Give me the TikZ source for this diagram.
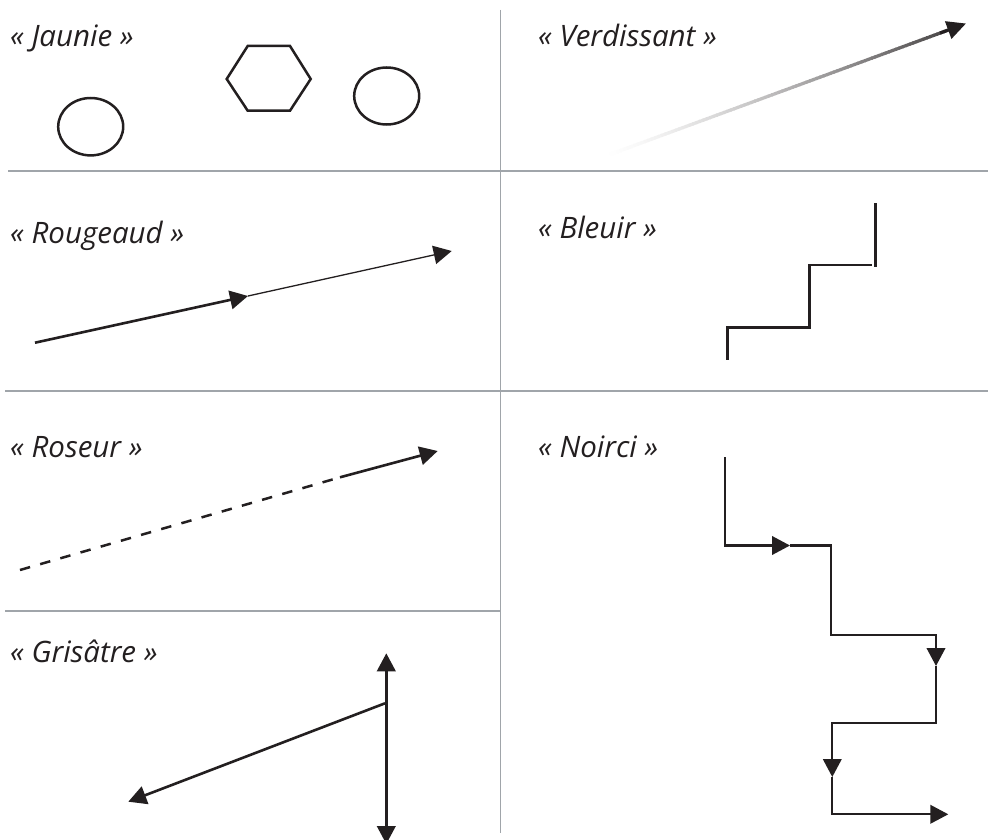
\documentclass[tikz,border=0pt]{standalone}
\usepackage{fontspec}
\setmainfont{Open Sans}
\usetikzlibrary{arrows.meta,calc}
\definecolor{ink}{HTML}{231F20}
\definecolor{rulec}{HTML}{A0A5AA}
\tikzset{
  lbl/.style={anchor=base west,inner sep=0pt,font=\fontsize{29.5}{34}\selectfont\itshape,text=ink},
  gridline/.style={draw=rulec,line width=1.6pt},
  outline/.style={draw=ink,line width=2.5pt},
  thickln/.style={draw=ink,line width=2.6pt},
  thinln/.style={draw=ink,line width=1.3pt},
  arr/.style={-{Triangle[length=18pt,width=18.5pt]}},
  dashln/.style={draw=ink,line width=2.5pt,dash pattern=on 10.5pt off 10.5pt}
}
\begin{document}
\begin{tikzpicture}[x=1pt,y=-1pt,line join=miter]
\useasboundingbox[fill=white] (0,0) rectangle (988,840);
% grid
\coordinate (vtop) at (500.5,10);
\coordinate (vbot) at (500.5,833);
\coordinate (h1l) at (8,171);
\coordinate (h1r) at (988,171);
\coordinate (h2l) at (5,391);
\coordinate (h2r) at (988,391);
\coordinate (h3l) at (5,611);
\coordinate (h3r) at (500.5,611);
\draw[gridline] (vtop) -- (vbot);
\draw[gridline] (h1l) -- (h1r);
\draw[gridline] (h2l) -- (h2r);
\draw[gridline] (h3l) -- (h3r);
% labels
\node[lbl] (ljaunie) at (10,47) {« Jaunie »};
\node[lbl] (lverd) at (538,47) {« Verdissant »};
\node[lbl] (lrouge) at (10,243) {« Rougeaud »};
\node[lbl] (lbleu) at (538,238) {« Bleuir »};
\node[lbl] (lrose) at (10,457) {« Roseur »};
\node[lbl] (lnoir) at (538,457) {« Noirci »};
\node[lbl] (lgris) at (10,662) {« Grisâtre »};
% Jaunie
\draw[outline] (90.7,126.7) ellipse [x radius=32.5pt, y radius=28.7pt];
\draw[outline] (386.7,96) ellipse [x radius=32.5pt, y radius=28.5pt];
\draw[outline] (226.7,79) -- (247.7,46) -- (290,46) -- (310.7,79) -- (290,110.7) -- (247.7,110.7) -- cycle;
% Verdissant
\coordinate (vs) at (603,157);
\coordinate (ve) at (947,30.5);
\coordinate (vtip) at (966,23.5);
\foreach \i in {0,...,99}{
  \pgfmathsetmacro{\ta}{\i/100}
  \pgfmathsetmacro{\tb}{(\i+1.3)/100}
  \pgfmathsetmacro{\pc}{82*(\i/99)^1.4}
  \draw[draw=ink!\pc!white,line width=3.2pt] ($(vs)!\ta!(ve)$) -- ($(vs)!\tb!(ve)$);
}
\draw[draw=ink,line width=3.2pt,-{Triangle[length=19pt,width=18pt]}] ($(vs)!0.98!(ve)$) -- (vtip);
% Rougeaud
\coordinate (r1) at (35,342.7);
\coordinate (r2) at (248,296);
\coordinate (r3) at (451.7,251);
\draw[thickln,arr] (r1) -- (r2);
\draw[thinln,arr] (r2) -- (r3);
% Bleuir
\coordinate (b1) at (727.7,359.5);
\coordinate (b2) at (727.7,327.3);
\coordinate (b3) at (809.3,327.3);
\coordinate (b4) at (809.3,265);
\coordinate (b5) at (872,265);
\coordinate (b6) at (875.5,266.5);
\coordinate (b7) at (875.5,203.3);
\draw[thickln] (b1) -- (b2) -- (b3) -- (b4) -- (b5);
\draw[thickln] (b6) -- (b7);
% Roseur
\coordinate (s1) at (20,570);
\coordinate (s2) at (340,477.3);
\coordinate (s3) at (437.7,451);
\draw[dashln] (s1) -- (s2);
\draw[thickln,arr] (s2) -- (s3);
% Grisatre
\coordinate (g1) at (386.3,653.3);
\coordinate (g2) at (386.3,844);
\coordinate (g3) at (385,703.3);
\coordinate (g4) at (128.3,801.7);
\draw[thickln,{Triangle[length=18pt,width=18.5pt]}-{Triangle[length=18pt,width=18.5pt]}] (g1) -- (g2);
\draw[thickln,arr] (g3) -- (g4);
% Noirci
\coordinate (n1) at (725,457.3);
\coordinate (n2) at (725,545.5);
\coordinate (n3) at (790,545.5);
\coordinate (n4) at (831,545.5);
\coordinate (n5) at (831,635);
\coordinate (n6) at (936,635);
\coordinate (n7) at (936,666);
\coordinate (n8) at (936,723.3);
\coordinate (n9) at (831,723.3);
\coordinate (n10) at (832.3,723.3);
\coordinate (n11) at (832.3,777);
\coordinate (n12) at (832.3,814.3);
\coordinate (n13) at (948.3,814.3);
\draw[thickln,line width=2.3pt,arr] (n1) -- (n2) -- (n3);
\draw[thickln,line width=2.3pt,arr] (n3) -- (n4) -- (n5) -- (n6) -- (n7);
\draw[thickln,line width=2.3pt] (n7) -- (n8) -- (n9);
\draw[thickln,line width=2.3pt,arr] (n10) -- (n11);
\draw[thickln,line width=2.3pt,arr] (n11) -- (n12) -- (n13);
\end{tikzpicture}
\end{document}
